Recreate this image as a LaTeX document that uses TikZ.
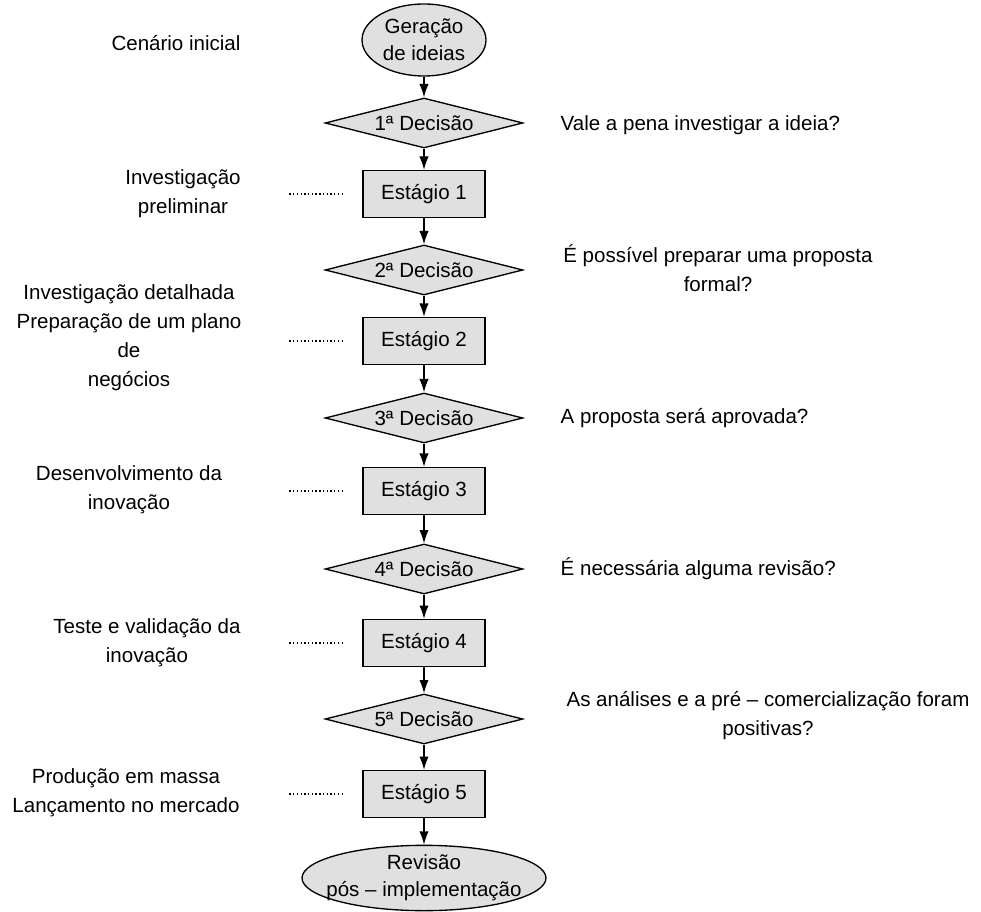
\documentclass[tikz,border=0pt]{standalone}
\usepackage{fontspec}
\setmainfont{Liberation Sans}
\usetikzlibrary{shapes.geometric,arrows.meta}
\begin{document}
\begin{tikzpicture}[x=0.75pt,y=-0.75pt,>={Latex[length=10pt,width=7pt]},font=\fontsize{15.4}{21.75}\selectfont]
        \tikzstyle{terminal}=[ellipse,draw=black,line width=1pt,fill=black!12,inner sep=0pt,align=center,font=\fontsize{15.4}{20}\selectfont]
        \tikzstyle{decision}=[diamond,draw=black,line width=1pt,fill=black!12,aspect=4,inner sep=0pt,minimum width=148.5pt,minimum height=37.5pt]
        \tikzstyle{stage}=[rectangle,draw=black,line width=1pt,fill=black!12,minimum width=91.5pt,minimum height=35.25pt]
        \tikzstyle{note}=[align=center]
        \tikzstyle{edge}=[draw,->,line width=1pt]
        \tikzstyle{guide}=[draw,line width=0.9pt,dash pattern=on 1pt off 1.8pt]
        \useasboundingbox (0,0) rectangle (981,912);
       \begin{scope}
         % main column
         \node [terminal,minimum width=93pt,minimum height=54pt] (ideias) at (424,40) {Geração\\de ideias};
         \node [decision] (d1) at (424,123) {1ª Decisão};
         \node [stage] (s1) at (424,194) {Estágio 1};
         \node [decision] (d2) at (424,270) {2ª Decisão};
         \node [stage] (s2) at (424,341) {Estágio 2};
         \node [decision] (d3) at (424,418) {3ª Decisão};
         \node [stage] (s3) at (424,491) {Estágio 3};
         \node [decision] (d4) at (424,569) {4ª Decisão};
         \node [stage] (s4) at (424,643) {Estágio 4};
         \node [decision] (d5) at (424,719) {5ª Decisão};
         \node [stage] (s5) at (424,794) {Estágio 5};
         \node [terminal,inner xsep=-12pt,minimum width=183pt,minimum height=49pt] (revisao) at (424,878) {Revisão\\pós – implementação};
         \path[edge] (ideias) edge (d1);
         \path[edge] (d1) edge (s1);
         \path[edge] (s1) edge (d2);
         \path[edge] (d2) edge (s2);
         \path[edge] (s2) edge (d3);
         \path[edge] (d3) edge (s3);
         \path[edge] (s3) edge (d4);
         \path[edge] (d4) edge (s4);
         \path[edge] (s4) edge (d5);
         \path[edge] (d5) edge (s5);
         \path[edge] (s5) edge (revisao);
         % left side
         \node [note] (cenario) at (176,43) {Cenário inicial};
         \node [note] (n1) at (183,194) {Investigação\\preliminar};
         \node [note] (n2) at (129,338) {Investigação detalhada\\Preparação de um plano\\de\\negócios};
         \node [note] (n3) at (129,490) {Desenvolvimento da\\inovação};
         \node [note] (n4) at (147,643) {Teste e validação da\\inovação};
         \node [note] (n5) at (126,793) {Produção em massa\\Lançamento no mercado};
         \path[guide] ([xshift=-54.75pt]s1.west) -- ([xshift=-15pt]s1.west);
         \path[guide] ([xshift=-54.75pt]s2.west) -- ([xshift=-15pt]s2.west);
         \path[guide] ([xshift=-54.75pt]s3.west) -- ([xshift=-15pt]s3.west);
         \path[guide] ([xshift=-54.75pt]s4.west) -- ([xshift=-15pt]s4.west);
         \path[guide] ([xshift=-54.75pt]s5.west) -- ([xshift=-15pt]s5.west);
         % right side
         \node [note,anchor=west] (q1) at (556,125) {Vale a pena investigar a ideia?};
         \node [note] (q2) at (718,268) {É possível preparar uma proposta\\formal?};
         \node [note,anchor=west] (q3) at (556,418) {A proposta será aprovada?};
         \node [note,anchor=west] (q4) at (556,569) {É necessária alguma revisão?};
         \node [note] (q5) at (768,716) {As análises e a pré – comercialização foram\\positivas?};
        \end{scope}
      \end{tikzpicture}
\end{document}
